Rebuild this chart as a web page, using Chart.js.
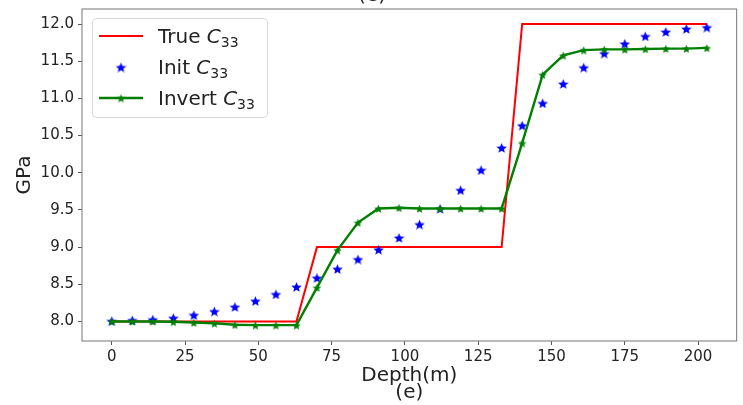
<!DOCTYPE html>
<html>
<head>
<meta charset="utf-8">
<script src="https://cdn.jsdelivr.net/npm/chart.js@4.4.1/dist/chart.umd.min.js"></script>
<style>
html, body { margin: 0; padding: 0; background: #ffffff; }
</style>
</head>
<body>
<canvas id="main-chart" width="743" height="405"></canvas>
<script>
// depth samples (m)
const depth = [0, 7, 14, 21, 28, 35, 42, 49, 56, 63, 70, 77, 84, 91, 98,
               105, 112, 119, 126, 133, 140, 147, 154, 161, 168, 175, 182, 189, 196, 203];

const true_c33 = [8, 8, 8, 8, 8, 8, 8, 8, 8, 8, 9, 9, 9, 9, 9,
                  9, 9, 9, 9, 9, 12, 12, 12, 12, 12, 12, 12, 12, 12, 12];

const init_c33 = [8.01, 8.02, 8.03, 8.05, 8.09, 8.14, 8.20, 8.28, 8.37, 8.47, 8.59, 8.71, 8.84, 8.97, 9.13,
                  9.31, 9.52, 9.77, 10.04, 10.34, 10.64, 10.94, 11.20, 11.42, 11.61, 11.74, 11.84, 11.90, 11.94, 11.96];

const invert_c33 = [8.0, 8.0, 8.0, 7.995, 7.985, 7.975, 7.955, 7.95, 7.95, 7.95, 8.455, 8.96, 9.33, 9.52, 9.53,
                    9.52, 9.52, 9.52, 9.52, 9.52, 10.40, 11.32, 11.58, 11.65, 11.66, 11.66, 11.665, 11.67, 11.67, 11.68];

const x_ticks = [0, 25, 50, 75, 100, 125, 150, 175, 200];
const y_ticks = [8.0, 8.5, 9.0, 9.5, 10.0, 10.5, 11.0, 11.5, 12.0];

const font_family = "'DejaVu Sans', 'Liberation Sans', sans-serif";
const text_color = "#222222";

function toPoints(ys)
{
    let pts = [];
    for(let i = 0; i < depth.length; i++)
        pts.push({x: depth[i], y: ys[i]});
    return pts;
}

// filled five point star, like matplotlib's '*' marker
function makeStar(size, color)
{
    let c = document.createElement("canvas");
    c.width = size;
    c.height = size;
    let ctx = c.getContext('2d');
    let r = size / 2;
    let ri = r * 0.45;
    ctx.fillStyle = color;
    ctx.beginPath();
    for(let i = 0; i < 10; i++)
    {
        let a = -Math.PI / 2 + i * Math.PI / 5;
        let rr = (i % 2 == 0) ? r : ri;
        let px = r + rr * Math.cos(a);
        let py = r + 0.08 * size + rr * Math.sin(a);
        if(i == 0) ctx.moveTo(px, py);
        else ctx.lineTo(px, py);
    }
    ctx.closePath();
    ctx.fill();
    return c;
}

const blue_star = makeStar(11, "#0000ff");
const green_star = makeStar(9, "#008000");

function drawLabel(ctx, x, y, word)
{
    ctx.textBaseline = "alphabetic";
    ctx.textAlign = "left";
    ctx.fillStyle = text_color;
    ctx.font = "20px " + font_family;
    ctx.fillText(word + " ", x, y);
    x += ctx.measureText(word + " ").width;
    ctx.font = "italic 20px " + font_family;
    ctx.fillText("C", x, y);
    x += ctx.measureText("C").width;
    ctx.font = "14px " + font_family;
    ctx.fillText("33", x, y + 4);
}

const framePlugin = {
    id: "frame",
    beforeDatasetsDraw(chart)
    {
        const a = chart.chartArea;
        const ctx = chart.ctx;
        ctx.save();
        ctx.strokeStyle = "#8c8c8c";
        ctx.lineWidth = 1.2;
        ctx.strokeRect(a.left, a.top, a.right - a.left, a.bottom - a.top);
        ctx.restore();
    },
    afterDraw(chart)
    {
        const ctx = chart.ctx;
        ctx.save();

        // clipped label of the panel above
        ctx.fillStyle = text_color;
        ctx.font = "20px " + font_family;
        ctx.textAlign = "center";
        ctx.textBaseline = "alphabetic";
        ctx.fillText("(e)", 372, 1);

        // legend
        let bx = 92, by = 18, bw = 175, bh = 99;
        ctx.beginPath();
        ctx.roundRect(bx + 0.5, by + 0.5, bw, bh, 4);
        ctx.fillStyle = "rgba(255,255,255,0.8)";
        ctx.fill();
        ctx.strokeStyle = "#d6d6d6";
        ctx.lineWidth = 1;
        ctx.stroke();

        let rows = [36, 67, 98];
        ctx.lineWidth = 2;
        ctx.strokeStyle = "#ff0000";
        ctx.beginPath();
        ctx.moveTo(99, rows[0]);
        ctx.lineTo(143, rows[0]);
        ctx.stroke();

        ctx.drawImage(blue_star, 121 - 5.5, rows[1] - 5.5);

        ctx.strokeStyle = "#008000";
        ctx.lineWidth = 2.4;
        ctx.beginPath();
        ctx.moveTo(99, rows[2]);
        ctx.lineTo(143, rows[2]);
        ctx.stroke();
        ctx.drawImage(green_star, 121 - 4.5, rows[2] - 4.5);

        drawLabel(ctx, 158, rows[0] + 7, "True");
        drawLabel(ctx, 158, rows[1] + 7, "Init");
        drawLabel(ctx, 158, rows[2] + 7, "Invert");

        ctx.restore();
    }
};

const data = {
    datasets: [
        {
            label: "True C33",
            data: toPoints(true_c33),
            borderColor: "#ff0000",
            backgroundColor: "#ff0000",
            borderWidth: 2,
            pointRadius: 0,
            showLine: true,
            order: 3
        },
        {
            label: "Init C33",
            data: toPoints(init_c33),
            showLine: false,
            pointStyle: blue_star,
            order: 2
        },
        {
            label: "Invert C33",
            data: toPoints(invert_c33),
            borderColor: "#008000",
            backgroundColor: "#008000",
            borderWidth: 2.4,
            pointStyle: green_star,
            showLine: true,
            order: 1
        }
    ]
};

const config = {
    type: "scatter",
    data: data,
    plugins: [framePlugin],
    options: {
        responsive: false,
        animation: false,
        layout: {
            padding: {left: 0, right: 2, top: 9, bottom: 0}
        },
        plugins: {
            legend: { display: false },
            tooltip: { enabled: false }
        },
        scales: {
            x: {
                type: "linear",
                min: -10.15,
                max: 213.15,
                afterFit: function(scale) {
                    scale.height = 64;
                    scale.paddingLeft = 0;
                    scale.paddingRight = 0;
                },
                afterBuildTicks: function(scale) {
                    scale.ticks = x_ticks.map(v => ({value: v}));
                },
                grid: {
                    drawOnChartArea: false,
                    drawTicks: true,
                    tickLength: 4,
                    color: "#555555"
                },
                border: { display: false },
                ticks: {
                    padding: 3,
                    color: text_color,
                    font: { family: font_family, size: 15 },
                    maxRotation: 0,
                    callback: v => String(v)
                },
                title: {
                    display: true,
                    text: ["Depth(m)", "(e)"],
                    color: text_color,
                    font: { family: font_family, size: 20, lineHeight: "17px" },
                    padding: { top: 0, bottom: 4 }
                }
            },
            y: {
                type: "linear",
                min: 7.737,
                max: 12.203,
                afterFit: function(scale) {
                    scale.width = 82;
                    scale.paddingTop = 0;
                    scale.paddingBottom = 0;
                },
                afterBuildTicks: function(scale) {
                    scale.ticks = y_ticks.map(v => ({value: v}));
                },
                grid: {
                    drawOnChartArea: false,
                    drawTicks: true,
                    tickLength: 4,
                    color: "#555555"
                },
                border: { display: false },
                ticks: {
                    padding: 4,
                    color: text_color,
                    font: { family: font_family, size: 15 },
                    callback: v => v.toFixed(1)
                },
                title: {
                    display: true,
                    text: "GPa",
                    color: text_color,
                    font: { family: font_family, size: 20 },
                    padding: { top: 13, bottom: 0 }
                }
            }
        }
    }
};

const main_chart = new Chart(document.getElementById("main-chart").getContext('2d'), config);
</script>
</body>
</html>
